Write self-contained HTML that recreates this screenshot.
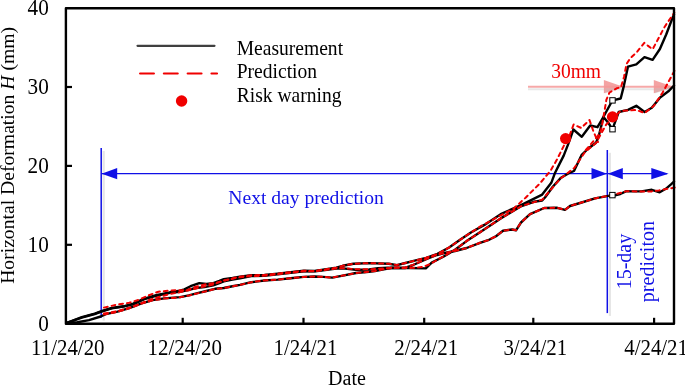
<!DOCTYPE html>
<html><head><meta charset="utf-8"><style>
html,body{margin:0;padding:0;background:#fff;width:685px;height:386px;overflow:hidden;font-family:"Liberation Serif", serif;}
</style></head><body>
<svg width="685" height="386" viewBox="0 0 685 386" style="display:block;will-change:transform">
<rect width="685" height="386" fill="#fff"/>
<line x1="528" y1="89.3" x2="672" y2="89.3" stroke="#e8e8e8" stroke-width="2"/>
<line x1="528" y1="86.8" x2="672" y2="86.8" stroke="#f6a8a8" stroke-width="2"/>
<polygon points="603.9,80.0 623.9,86.9 603.9,93.2" fill="#f39898" fill-opacity="0.9"/>
<polygon points="604.9,88.3 622.9,87.8 604.9,93.6" fill="#c0c0c0" fill-opacity="0.35"/>
<polygon points="653.8,80.0 673.8,86.9 653.8,93.2" fill="#f39898" fill-opacity="0.9"/>
<polygon points="654.8,88.3 672.8,87.8 654.8,93.6" fill="#c0c0c0" fill-opacity="0.35"/>
<text transform="translate(551.2,77.8) scale(1,1.07)" font-family='"Liberation Serif", serif' font-size="19.5" fill="#f00000">30mm</text>
<line x1="103.7" y1="151" x2="103.7" y2="320.6" stroke="#e6e6e6" stroke-width="2.2"/>
<line x1="609.9" y1="152.8" x2="609.9" y2="315.9" stroke="#e6e6e6" stroke-width="2.2"/>
<line x1="101.2" y1="148" x2="101.2" y2="317.8" stroke="#1010e6" stroke-width="1.5"/>
<line x1="607.3" y1="150" x2="607.3" y2="313.1" stroke="#1010e6" stroke-width="1.5"/>
<line x1="101.2" y1="173.6" x2="667" y2="173.6" stroke="#1010e6" stroke-width="1.1"/>
<polygon points="101.6,173.7 117.2,168.1 117.2,179.3" fill="#1010e6"/>
<polygon points="607.0,173.7 591.5,168.1 591.5,179.3" fill="#1010e6"/>
<polygon points="607.8,173.7 622.8,168.1 622.8,179.3" fill="#1010e6"/>
<polygon points="668.6,173.7 651.3,168.1 651.3,179.3" fill="#1010e6"/>
<polyline points="66.5,323.0 81.8,317.2 94.8,313.6 102.1,311.0 111.7,308.0 123.4,306.3 132.7,303.9 144.4,298.7 156.1,295.2 170.0,292.3 180.0,290.6 184.4,289.3 190.5,286.2 199.3,283.1 206.3,284.0 213.3,283.1 219.4,280.9 223.8,279.2 232.5,277.9 240.0,276.6 251.3,275.2 264.4,275.0 277.6,273.6 290.7,272.1 303.8,270.8 315.0,271.0 323.1,269.7 336.3,267.7 342.8,265.8 353.4,263.8 369.1,263.1 388.8,263.8 396.9,265.1 405.4,263.0 415.7,260.4 426.1,257.8 437.5,253.9 449.1,247.5 460.8,239.3 471.3,232.3 484.4,224.9 500.7,214.2 521.5,204.9 542.2,194.6 551.3,182.8 555.1,172.7 559.0,164.9 563.7,155.6 568.3,143.9 573.4,129.5 581.8,136.8 590.2,125.5 597.5,127.2 603.5,116.8 612.5,100.3 620.7,98.5 623.8,86.1 628.0,66.6 636.3,64.4 644.5,57.1 652.6,59.8 659.9,49.0 666.2,34.5 671.7,20.0 674.0,14.5" fill="none" stroke="#000" stroke-width="2.4" stroke-linejoin="round" stroke-linecap="round"/>
<polyline points="66.5,323.0 81.8,317.6 94.8,314.0 102.1,311.4 111.7,308.4 123.4,306.6 132.7,304.3 144.4,299.2 156.1,295.8 170.0,292.8 180.0,291.9 188.0,290.0 195.8,288.0 204.5,287.1 213.3,285.3 219.4,283.1 223.8,281.4 232.5,279.6 240.0,278.3 251.3,276.0 264.4,275.8 277.6,274.3 290.7,272.8 303.8,271.3 315.0,271.3 323.1,270.2 336.3,268.5 342.8,268.4 356.0,269.7 369.1,269.5 378.0,268.2 388.0,267.8 397.0,268.0 410.0,268.0 425.8,268.4 431.7,262.6 443.3,256.8 455.0,249.8 466.6,241.1 480.0,232.3 500.7,218.4 521.5,206.0 533.9,201.8 542.2,200.5 545.0,197.5 552.8,186.7 560.6,178.1 568.3,173.4 574.0,171.0 581.5,155.2 587.7,149.0 596.0,142.8 598.5,137.0 603.5,117.0 608.4,123.0 612.5,129.2 618.7,112.0 628.0,109.9 636.3,105.8 644.6,112.0 651.8,107.8 660.1,97.5 668.4,91.3 674.0,85.5" fill="none" stroke="#000" stroke-width="2.4" stroke-linejoin="round" stroke-linecap="round"/>
<polyline points="66.5,323.0 77.4,322.3 89.0,320.1 100.7,316.5 105.8,314.2 117.5,311.6 129.2,308.2 140.9,303.6 152.6,300.1 164.2,298.4 180.0,297.1 188.8,295.4 197.5,293.2 206.3,291.0 215.0,288.8 223.8,288.0 232.5,286.2 240.0,284.9 251.3,282.2 264.4,280.5 277.6,279.6 290.7,278.2 303.8,276.9 315.0,276.5 323.1,276.9 332.3,277.6 342.8,275.6 356.0,273.0 369.1,271.7 375.0,271.0 383.8,269.3 392.5,267.8 405.0,268.0 412.0,265.5 418.8,262.5 428.0,258.5 437.0,255.0 443.3,253.3 455.0,251.0 466.6,248.0 480.0,242.8 488.1,240.2 496.0,236.2 503.0,230.8 512.0,229.5 516.0,230.3 521.0,222.5 530.0,214.2 544.2,208.0 557.3,207.8 565.0,209.9 570.0,206.0 580.0,203.0 595.0,198.4 612.4,195.1 615.0,195.3 620.3,194.0 626.4,191.2 632.5,191.4 641.3,191.4 651.8,189.8 659.7,192.3 665.8,188.8 671.0,184.4 674.0,181.5" fill="none" stroke="#000" stroke-width="2.4" stroke-linejoin="round" stroke-linecap="round"/>
<polyline points="104.0,307.6 117.5,304.5 129.2,302.8 138.5,299.9 149.0,295.2 158.4,291.7 170.0,290.5 180.0,290.2 186.0,290.5 195.2,286.9 205.7,284.3 218.8,282.3 230.0,279.0 238.1,276.9 251.3,275.2 264.4,275.0 277.6,273.6 290.7,272.1 303.8,270.8 315.0,271.0 323.1,269.7 336.3,267.7 342.8,265.8 353.4,263.8 369.1,263.1 388.8,263.8 396.9,265.0 405.4,263.0 415.7,260.4 426.1,257.8 437.5,253.9 449.1,247.5 460.8,239.3 471.3,232.3 480.0,226.7 500.7,215.3 513.2,209.0 525.6,197.7 540.1,183.2 550.5,170.7 557.0,159.5 564.0,145.5 569.0,137.0 573.6,124.5 581.2,128.0 589.5,120.0 593.4,131.3 598.0,142.0" fill="none" stroke="#f00000" stroke-width="2.0" stroke-linejoin="round" stroke-linecap="round" stroke-dasharray="3.8 4"/>
<polyline points="585.8,150.0 597.5,136.5 601.2,129.8 604.3,112.2 606.4,99.7 609.5,92.5 616.7,88.3 620.9,87.3 624.0,77.0 626.5,64.0 630.4,58.1 636.8,52.2 644.3,42.8 648.1,45.9 652.6,49.3 657.2,40.8 664.4,27.2 671.7,16.3 674.4,12.7" fill="none" stroke="#f00000" stroke-width="2.0" stroke-linejoin="round" stroke-linecap="round" stroke-dasharray="3.8 4"/>
<polyline points="104.0,313.5 117.5,311.2 129.2,307.6 138.5,304.5 149.0,300.0 158.4,297.2 170.0,294.0 179.4,292.3 190.0,290.0 200.0,287.5 213.6,284.5 221.5,281.0 230.0,279.3 238.1,277.5 251.3,276.0 264.4,275.8 277.6,274.3 290.7,272.8 303.8,271.3 315.0,271.3 323.1,270.2 336.3,268.5 342.8,268.2 356.0,269.2 369.1,269.3 382.3,268.6 397.0,267.8 410.0,268.0 423.0,267.0 429.3,264.4 434.5,261.5 443.3,256.5 455.0,249.8 466.6,241.1 480.0,232.3 500.7,218.4 521.5,206.0 542.2,199.7 560.0,179.0 574.2,168.0 585.0,152.0 596.0,143.0 606.2,124.4 620.7,111.0 636.3,110.0 644.6,113.0 653.9,105.8 662.2,93.3 668.4,82.0 674.6,70.5" fill="none" stroke="#f00000" stroke-width="2.0" stroke-linejoin="round" stroke-linecap="round" stroke-dasharray="3.8 4"/>
<polyline points="104.0,314.5 117.5,311.8 129.2,308.4 140.9,303.8 152.6,300.3 164.2,298.6 180.0,297.3 188.8,295.6 197.5,293.4 206.3,291.2 215.0,289.0 223.8,288.1 232.5,286.3 240.0,285.0 251.3,282.2 264.4,280.5 277.6,279.6 290.7,278.2 303.8,276.9 315.0,276.5 323.1,276.9 332.3,277.6 342.8,275.6 356.0,273.0 369.1,271.7 375.0,271.0 383.8,269.3 392.5,267.5 405.0,267.6 412.0,265.3 418.8,262.3 428.0,258.3 437.0,254.8 443.3,253.3 455.0,251.0 466.6,248.0 480.0,242.8 488.1,240.2 496.0,236.2 503.0,230.8 512.0,229.5 516.0,230.3 521.0,222.5 530.0,214.2 544.2,208.0 557.3,207.8 565.0,209.9 570.0,206.0 580.0,203.0 595.0,198.4 609.2,195.6 615.0,194.5 626.4,191.2 636.9,191.4 651.8,191.4 658.8,190.5 667.5,188.8 674.7,187.6" fill="none" stroke="#f00000" stroke-width="2.0" stroke-linejoin="round" stroke-linecap="round" stroke-dasharray="3.8 4"/>
<circle cx="565.6" cy="138.6" r="5.6" fill="#f00000"/>
<circle cx="612.5" cy="116.9" r="5.6" fill="#f00000"/>
<rect x="609.8" y="97.7" width="5.4" height="5.4" fill="#fff" stroke="#000" stroke-width="1"/>
<rect x="609.8" y="126.49999999999999" width="5.4" height="5.4" fill="#fff" stroke="#000" stroke-width="1"/>
<rect x="609.6999999999999" y="192.4" width="5.4" height="5.4" fill="#fff" stroke="#000" stroke-width="1"/>
<path d="M65.9,8.2 H674.0 V323.7 H65.9 Z" fill="none" stroke="#000" stroke-width="2.4" stroke-linejoin="round"/>
<line x1="65.9" y1="244.8" x2="72" y2="244.8" stroke="#000" stroke-width="2.2"/>
<line x1="65.9" y1="165.9" x2="72" y2="165.9" stroke="#000" stroke-width="2.2"/>
<line x1="65.9" y1="87.0" x2="72" y2="87.0" stroke="#000" stroke-width="2.2"/>
<line x1="182.7" y1="323.7" x2="182.7" y2="317.8" stroke="#000" stroke-width="2.2"/>
<line x1="303.5" y1="323.7" x2="303.5" y2="317.8" stroke="#000" stroke-width="2.2"/>
<line x1="424.2" y1="323.7" x2="424.2" y2="317.8" stroke="#000" stroke-width="2.2"/>
<line x1="533.3" y1="323.7" x2="533.3" y2="317.8" stroke="#000" stroke-width="2.2"/>
<line x1="654.1" y1="323.7" x2="654.1" y2="317.8" stroke="#000" stroke-width="2.2"/>
<text transform="translate(48.8,330.9) scale(1,1.09)" font-family='"Liberation Serif", serif' font-size="21.2" text-anchor="end">0</text>
<text transform="translate(48.8,252.0) scale(1,1.09)" font-family='"Liberation Serif", serif' font-size="21.2" text-anchor="end">10</text>
<text transform="translate(48.8,173.1) scale(1,1.09)" font-family='"Liberation Serif", serif' font-size="21.2" text-anchor="end">20</text>
<text transform="translate(48.8,94.2) scale(1,1.09)" font-family='"Liberation Serif", serif' font-size="21.2" text-anchor="end">30</text>
<text transform="translate(48.8,15.3) scale(1,1.09)" font-family='"Liberation Serif", serif' font-size="21.2" text-anchor="end">40</text>
<text transform="translate(67.8,354.9) scale(1,1.06)" font-family='"Liberation Serif", serif' font-size="20.9" text-anchor="middle">11/24/20</text>
<text transform="translate(184.7,354.9) scale(1,1.06)" font-family='"Liberation Serif", serif' font-size="20.9" text-anchor="middle">12/24/20</text>
<text transform="translate(305.5,354.9) scale(1,1.06)" font-family='"Liberation Serif", serif' font-size="20.9" text-anchor="middle">1/24/21</text>
<text transform="translate(426.2,354.9) scale(1,1.06)" font-family='"Liberation Serif", serif' font-size="20.9" text-anchor="middle">2/24/21</text>
<text transform="translate(535.3,354.9) scale(1,1.06)" font-family='"Liberation Serif", serif' font-size="20.9" text-anchor="middle">3/24/21</text>
<text transform="translate(656.1,354.9) scale(1,1.06)" font-family='"Liberation Serif", serif' font-size="20.9" text-anchor="middle">4/24/21</text>
<text x="347" y="385.1" font-family='"Liberation Serif", serif' font-size="20" text-anchor="middle">Date</text>
<text transform="translate(14.0,155.4) rotate(-90)" font-family='"Liberation Serif", serif' font-size="19.65" text-anchor="middle">Horizontal Deformation <tspan font-style="italic">H</tspan> (mm)</text>
<line x1="137.5" y1="45.8" x2="214.5" y2="45.8" stroke="#404040" stroke-width="2.2" stroke-linecap="round"/>
<line x1="140.1" y1="73.5" x2="217" y2="73.5" stroke="#f00000" stroke-width="2.2" stroke-linecap="round" stroke-dasharray="13.8 10"/>
<circle cx="181.6" cy="101" r="5.7" fill="#f00000"/>
<text transform="translate(236.7,54.6) scale(0.978,1.02)" font-family='"Liberation Serif", serif' font-size="20">Measurement</text>
<text transform="translate(236.7,78.0) scale(0.978,1.02)" font-family='"Liberation Serif", serif' font-size="20">Prediction</text>
<text transform="translate(236.7,101.8) scale(0.978,1.02)" font-family='"Liberation Serif", serif' font-size="20">Risk warning</text>
<text x="228.3" y="204.4" font-family='"Liberation Serif", serif' font-size="19.6" fill="#1010e6">Next day prediction</text>
<text transform="translate(631.3,261.6) rotate(-90)" font-family='"Liberation Serif", serif' font-size="20" fill="#1010e6" text-anchor="middle">15-day</text>
<text transform="translate(654.2,261.6) rotate(-90)" font-family='"Liberation Serif", serif' font-size="20" fill="#1010e6" text-anchor="middle">prediciton</text>
</svg>
</body></html>
